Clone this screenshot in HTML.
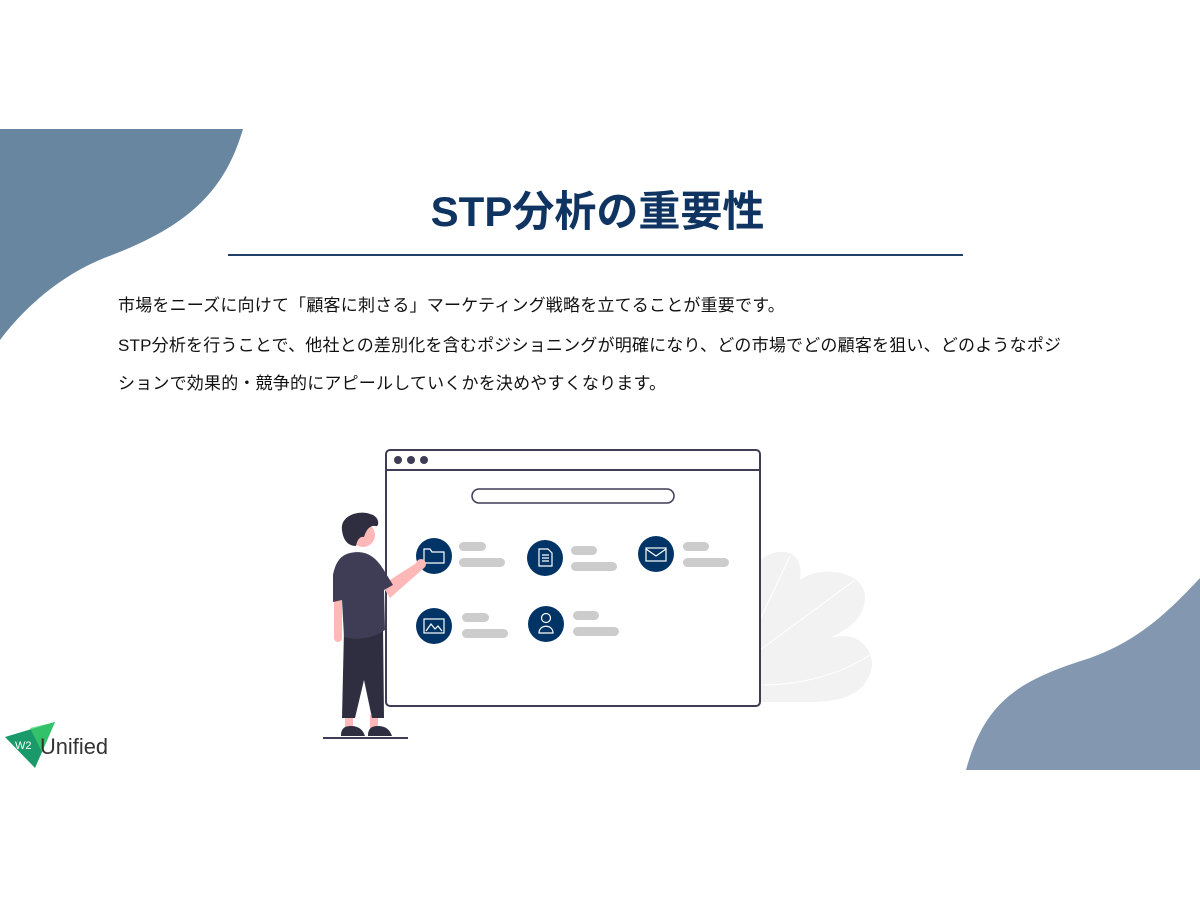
<!DOCTYPE html>
<html><head><meta charset="utf-8"><style>
body{margin:0;width:1200px;height:900px;background:#fff;position:relative;overflow:hidden;font-family:"Liberation Sans","Noto Sans CJK JP",sans-serif}
.t{position:absolute;left:118px;font-size:17px;color:#111;white-space:nowrap;letter-spacing:0.2px}
</style></head><body>
<svg width="1200" height="900" style="position:absolute;left:0;top:0">
<path d="M0 129 L243 129 C225 190 190 225 112 255 C70 270 30 300 0 340 Z" fill="#6886a0"/>
<path d="M966 770 C985 700 1020 680 1090 658 C1140 640 1170 610 1200 578 L1200 770 Z" fill="#8398b0"/>
<line x1="228" y1="255" x2="963" y2="255" stroke="#1f3f66" stroke-width="2"/>
<g fill="#f2f2f2">
<path d="M760 560 C780 545 805 550 800 580 C820 565 862 570 865 595 C866 620 845 630 830 638 C860 630 872 650 872 665 C868 695 840 702 810 702 L760 702 Z"/>
</g>
<path d="M790 556 L760 620 M855 580 L760 650 M870 655 C840 675 800 685 760 685" stroke="#fff" stroke-width="1" fill="none"/>
<rect x="386" y="450" width="374" height="256" rx="4" fill="#fff" stroke="#3f3d56" stroke-width="2"/>
<line x1="386" y1="470" x2="760" y2="470" stroke="#3f3d56" stroke-width="2"/>
<circle cx="398" cy="460" r="4" fill="#3f3d56"/><circle cx="411" cy="460" r="4" fill="#3f3d56"/><circle cx="424" cy="460" r="4" fill="#3f3d56"/>
<rect x="472" y="489" width="202" height="14" rx="7" fill="#fff" stroke="#3f3d56" stroke-width="1.5"/>
<g fill="#003366">
<circle cx="434" cy="556" r="18"/><circle cx="545" cy="558" r="18"/><circle cx="656" cy="554" r="18"/><circle cx="434" cy="626" r="18"/><circle cx="546" cy="624" r="18"/>
</g>
<g fill="none" stroke="#fff" stroke-width="1.2">
<path d="M424 549 h6 l2 3 h12 v11 h-20 z"/>
<path d="M539 549 h9 l4 4 v13 h-13 z M542 555 h7 M542 558 h7 M542 561 h7"/>
<rect x="646" y="548" width="20" height="13"/><path d="M646 549 l10 7 l10 -7"/>
<rect x="424" y="619" width="20" height="14"/><path d="M426 631 l5 -7 l4 5 l3 -3 l4 5"/>
<circle cx="546" cy="618" r="4.5"/><path d="M539 633 c0 -9 14 -9 14 0 z"/>
</g>
<g fill="#cccccc">
<rect x="459" y="542" width="27" height="9" rx="4.5"/><rect x="459" y="558" width="46" height="9" rx="4.5"/>
<rect x="571" y="546" width="26" height="9" rx="4.5"/><rect x="571" y="562" width="46" height="9" rx="4.5"/>
<rect x="683" y="542" width="26" height="9" rx="4.5"/><rect x="683" y="558" width="46" height="9" rx="4.5"/>
<rect x="462" y="613" width="27" height="9" rx="4.5"/><rect x="462" y="629" width="46" height="9" rx="4.5"/>
<rect x="573" y="611" width="26" height="9" rx="4.5"/><rect x="573" y="627" width="46" height="9" rx="4.5"/>
</g>
<line x1="323" y1="738" x2="408" y2="738" stroke="#3f3d56" stroke-width="2"/>
<path d="M345 715 h8 v15 h-8z M370 715 h8 v15 h-8z" fill="#ffb8b8"/>
<path d="M341 736 c0 -8 4 -10 10 -10 c8 0 12 4 14 10z M368 736 c0 -8 4 -10 10 -10 c8 0 12 4 14 10z" fill="#2f2e41"/>
<path d="M344 630 L383 625 L384 718 L372 718 L364 680 L355 718 L342 718 Z" fill="#2f2e41"/>
<path d="M382 585 L418 562 L424 568 L390 598 Z" fill="#ffb8b8"/>
<circle cx="421" cy="564" r="5" fill="#ffb8b8"/>
<rect x="334" y="580" width="8" height="62" rx="4" fill="#ffb8b8"/>
<path d="M350 553 C365 550 375 555 385 572 L393 585 L384 590 L385 630 C370 640 355 640 344 637 L342 600 L333 602 L333 575 C336 560 342 555 350 553Z" fill="#3f3d56"/>
<circle cx="363" cy="535" r="12" fill="#ffb8b8"/>
<path d="M342 530 C340 515 360 510 370 514 C380 516 380 528 375 526 C370 525 366 530 364 537 C360 536 357 540 356 546 C348 546 343 540 342 530Z" fill="#2f2e41"/>
<path d="M5 737 L55 722 L35 768 Z" fill="#1a9a6a"/>
<path d="M30 728 L55 722 L42 752 Z" fill="#3fd36a" opacity="0.7"/>
<text x="15" y="749" font-family="Liberation Sans" font-size="11" fill="#fff">W2</text>
<text x="40" y="754" font-family="Liberation Sans" font-size="22" fill="#333" textLength="68" lengthAdjust="spacingAndGlyphs">Unified</text>
</svg>
<div style="position:absolute;left:0;width:1195px;top:186px;text-align:center;font-size:42px;font-weight:bold;color:#0f3461;line-height:52px">STP分析の重要性</div>
<div class="t" style="top:291px">市場をニーズに向けて「顧客に刺さる」マーケティング戦略を立てることが重要です。</div>
<div class="t" style="top:331px">STP分析を行うことで、他社との差別化を含むポジショニングが明確になり、どの市場でどの顧客を狙い、どのようなポジ</div>
<div class="t" style="top:369px">ションで効果的・競争的にアピールしていくかを決めやすくなります。</div>
</body></html>
